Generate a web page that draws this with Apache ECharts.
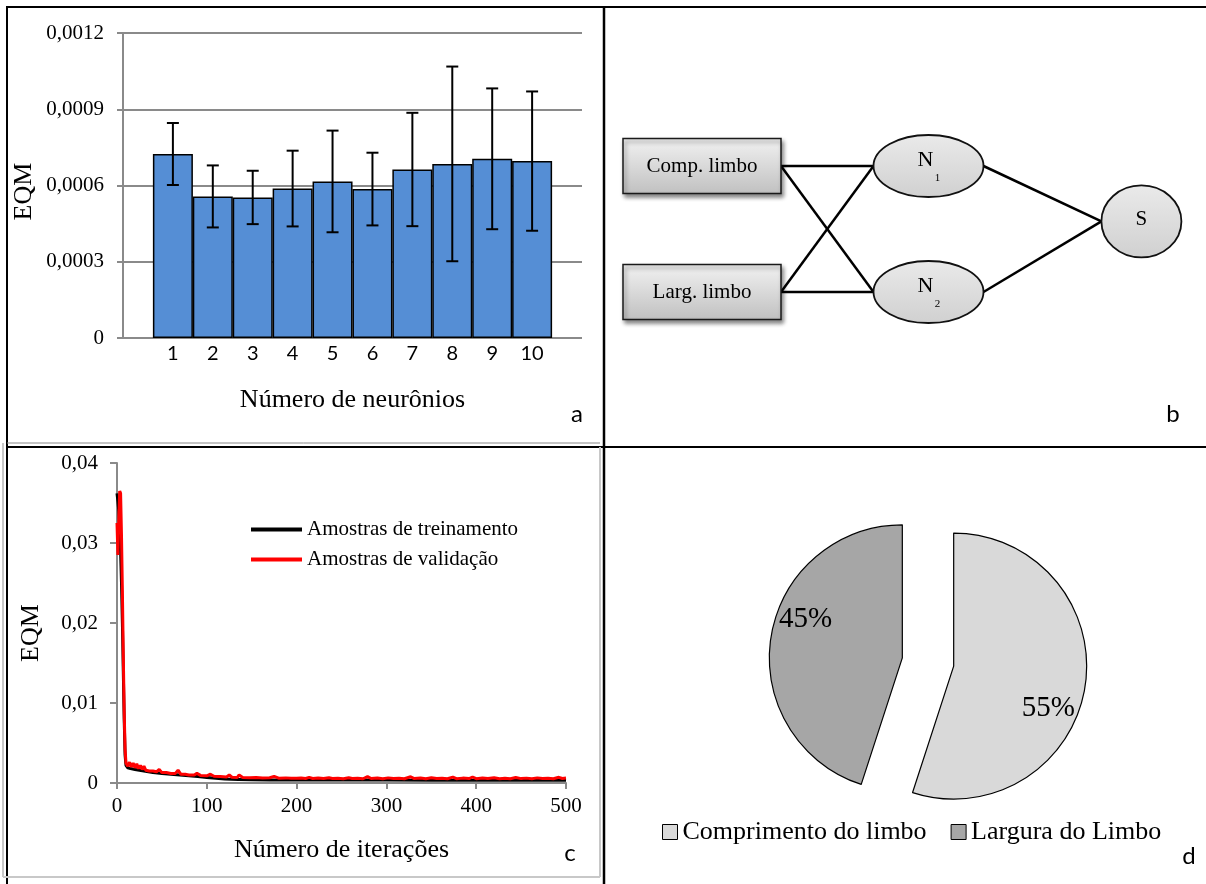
<!DOCTYPE html>
<html><head><meta charset="utf-8">
<script src="https://cdn.jsdelivr.net/npm/echarts@6/dist/echarts.min.js"></script>
<style>html,body{margin:0;padding:0;background:#fff}#c{width:1206px;height:884px}</style>
</head><body><div id="c"></div>
<script>
// ---------- Panel a: EQM vs number of neurons ----------
const neuronCounts = [1, 2, 3, 4, 5, 6, 7, 8, 9, 10];
const eqmMean = [0.000724, 0.000557, 0.000553, 0.000588, 0.000616, 0.000586, 0.000663, 0.000685, 0.000705, 0.000696];
const eqmSd   = [0.000122, 0.000122, 0.000105, 0.000149, 0.000200, 0.000143, 0.000223, 0.000383, 0.000277, 0.000274];

// ---------- Panel b: network topology ----------
const netNodes = [
  { label: 'Comp. limbo', sub: '', kind: 'input',  col: 0,    row: 0 },
  { label: 'Larg. limbo', sub: '', kind: 'input',  col: 0,    row: 1 },
  { label: 'N',           sub: '1', kind: 'hidden', col: 1,    row: 0 },
  { label: 'N',           sub: '2', kind: 'hidden', col: 1,    row: 1 },
  { label: 'S',           sub: '', kind: 'output', col: 1.94, row: 0.44 }
];
const netLinks = [[0, 2], [0, 3], [1, 2], [1, 3], [2, 4], [3, 4]];

// ---------- Panel c: training curves ----------
const trainIter = [0,1,2,3,4,5,6,7,8,9,10,12,15,20,25,30,40,50,60,70,80,90,100,110,120,135,150,170,200,250,300,350,400,450,500];
const trainEqm  = [0.0362,0.0352,0.034,0.032,0.029,0.025,0.02,0.014,0.008,0.0035,0.0022,0.0019,0.0018,0.0017,0.0016,0.0015,0.0013,0.0012,0.0011,0.001,0.0009,0.0008,0.0007,0.0006,0.0005,0.00045,0.0004,0.00038,0.00037,0.00036,0.00036,0.00035,0.00035,0.00035,0.00035];
const validPoints = [
  [0,0.0325],[1,0.0285],[2,0.033],[3,0.0365],[4,0.0362],[5,0.031],[6,0.024],[7,0.016],[8,0.009],[9,0.0042],
  [10,0.0025],[12,0.0021],[14,0.0026],[16,0.002],[18,0.0025],[20,0.0019],[22,0.0024],[24,0.0018],[26,0.0022],[28,0.0017],
  [30,0.0021],[32,0.0016],[36,0.0015],[40,0.0015],[44,0.0014],[47,0.0017],[50,0.0013],[55,0.0013],[60,0.0012],[65,0.0012],
  [68,0.0016],[71,0.0011],[76,0.0011],[80,0.001],[86,0.001],[89,0.0012],[93,0.00095],[100,0.0009],[104,0.0011],[108,0.00085],
  [115,0.0008],[122,0.00075],[125,0.001],[128,0.00072],[134,0.0007],[136,0.001],[140,0.0007],[148,0.00065],[155,0.00068],[162,0.00062],
  [170,0.00066],[175,0.00082],[180,0.0006],[188,0.00064],[194,0.00058],[200,0.00058],[205,0.00062],[210,0.00056],[214,0.0007],[218,0.00057],
  [224,0.00063],[230,0.00055],[236,0.00066],[240,0.00057],[246,0.0006],[252,0.00054],[258,0.00065],[262,0.00056],[268,0.0006],[274,0.00053],
  [279,0.0008],[283,0.00056],[290,0.00062],[296,0.00054],[302,0.00064],[308,0.00055],[314,0.0006],[320,0.00053],[327,0.00078],[331,0.00055],
  [338,0.00062],[344,0.00054],[350,0.00066],[356,0.00055],[362,0.0006],[368,0.00053],[374,0.00074],[378,0.00054],[385,0.00061],[392,0.00055],
  [396,0.00075],[400,0.00054],[407,0.00062],[413,0.00055],[420,0.00065],[426,0.00054],[432,0.0006],[438,0.00053],[444,0.00068],[450,0.00055],
  [456,0.00061],[462,0.00054],[468,0.00064],[474,0.00055],[480,0.0006],[486,0.00054],[492,0.00071],[496,0.00056],[500,0.00062]
];
const seriesNames = ['Amostras de treinamento', 'Amostras de validação'];

// ---------- Panel d: relative importance ----------
const pieNames  = ['Comprimento do limbo', 'Largura do Limbo'];
const pieValues = [55, 45];

// ---------- styles ----------
const SERIF = '"Liberation Serif", "Times New Roman", serif';
const SANS = 'Lato, "Open Sans", sans-serif';
const AXIS_GRAY = '#8a8a8a';
const nodeSize = { input: [158, 55], hidden: [110, 62], output: [80, 72] };
const pieColors = ['#D9D9D9', '#A6A6A6'];
const pieLabelShift = [[26, 31], [-28, -28]];

const boxFill = new echarts.graphic.LinearGradient(0, 0, 0, 1, [
  { offset: 0, color: '#f2f2f2' }, { offset: 1, color: '#c0c0c0' }]);
const ellFill = new echarts.graphic.LinearGradient(0, 0, 0, 1, [
  { offset: 0, color: '#eaeaea' }, { offset: 1, color: '#d0d0d0' }]);

function halfWidth(n) { return nodeSize[n.kind][0] / 2; }

const chart = echarts.init(document.getElementById('c'), null, { renderer: 'canvas' });

const frameLine = (x1, y1, x2, y2, color, w) => ({
  type: 'line', silent: true, z: 100,
  shape: { x1, y1, x2, y2 }, style: { stroke: color, lineWidth: w }
});
const letter = (t, x, y) => ({
  type: 'text', x, y, z: 100,
  style: { text: t, font: '24px ' + SANS, fill: '#000', align: 'center', verticalAlign: 'middle' }
});

const option = {
  animation: false,
  backgroundColor: '#fff',
  grid: [
    { left: 123, top: 33, width: 459, height: 305, outerBoundsMode: 'none' },
    { left: 702, top: 166, width: 453, height: 126, outerBoundsMode: 'none' },
    { left: 117, top: 463, width: 449, height: 320, outerBoundsMode: 'none' }
  ],
  xAxis: [
    {
      gridIndex: 0, type: 'value', min: -0.25, max: 11.25,
      axisLine: { show: false, onZero: false }, axisTick: { show: false }, splitLine: { show: false },
      axisLabel: { customValues: neuronCounts, fontFamily: SANS, fontSize: 20, color: '#000', margin: 6 },
      name: 'Número de neurônios', nameLocation: 'middle', nameGap: 49,
      nameTextStyle: { fontFamily: SERIF, fontSize: 26, color: '#000' }
    },
    { gridIndex: 1, type: 'value', min: 0, max: 2, show: false },
    {
      gridIndex: 2, type: 'value', min: 0, max: 500, interval: 100,
      axisLine: { show: true, onZero: false, lineStyle: { color: AXIS_GRAY, width: 2 } },
      axisTick: { show: true, length: 6, lineStyle: { color: AXIS_GRAY, width: 2 } },
      splitLine: { show: false },
      axisLabel: { fontFamily: SERIF, fontSize: 21, color: '#000', margin: 13 },
      name: 'Número de iterações', nameLocation: 'middle', nameGap: 54,
      nameTextStyle: { fontFamily: SERIF, fontSize: 26, color: '#000' }
    }
  ],
  yAxis: [
    {
      gridIndex: 0, type: 'value', min: 0, max: 0.0012, interval: 0.0003,
      axisLine: { show: true, onZero: false, lineStyle: { color: AXIS_GRAY, width: 2 } },
      axisTick: { show: true, length: 6, lineStyle: { color: AXIS_GRAY, width: 2 } },
      splitLine: { show: true, lineStyle: { color: AXIS_GRAY, width: 2 } },
      axisLabel: {
        fontFamily: SERIF, fontSize: 21, color: '#000', margin: 19,
        formatter: v => v === 0 ? '0' : v.toFixed(4).replace('.', ',')
      },
      name: 'EQM', nameLocation: 'middle', nameGap: 86,
      nameTextStyle: { fontFamily: SERIF, fontSize: 26, color: '#000', padding: [0, 12, 0, 0] }
    },
    { gridIndex: 1, type: 'value', min: 0, max: 1, inverse: true, show: false },
    {
      gridIndex: 2, type: 'value', min: 0, max: 0.04, interval: 0.01,
      axisLine: { show: true, onZero: false, lineStyle: { color: AXIS_GRAY, width: 2 } },
      axisTick: { show: true, length: 7, lineStyle: { color: AXIS_GRAY, width: 2 } },
      splitLine: { show: false },
      axisLabel: {
        fontFamily: SERIF, fontSize: 21, color: '#000', margin: 19,
        formatter: v => v === 0 ? '0' : v.toFixed(2).replace('.', ',')
      },
      name: 'EQM', nameLocation: 'middle', nameGap: 73,
      nameTextStyle: { fontFamily: SERIF, fontSize: 26, color: '#000', padding: [0, 20, 0, 0] }
    }
  ],
  legend: [
    {
      data: seriesNames.map(n => ({ name: n, icon: 'rect' })), orient: 'vertical', left: 251, top: 519, padding: 0,
      itemWidth: 51, itemHeight: 4, itemGap: 9,
      textStyle: { fontFamily: SERIF, fontSize: 21, color: '#000' },
      selectedMode: false
    },
    {
      data: pieNames, orient: 'horizontal', left: 662, top: 819, padding: 0,
      itemWidth: 15, itemHeight: 15, itemGap: 24, icon: 'rect',
      itemStyle: { borderColor: '#000', borderWidth: 1 },
      textStyle: { fontFamily: SERIF, fontSize: 26, color: '#000' },
      selectedMode: false
    }
  ],
  series: [
    {
      type: 'bar', xAxisIndex: 0, yAxisIndex: 0, barWidth: 40, z: 2,
      data: neuronCounts.map((n, i) => [n, eqmMean[i]]),
      itemStyle: { color: '#558ED5', borderColor: '#000', borderWidth: 1.5 },
      emphasis: { disabled: true }
    },
    {
      type: 'custom', xAxisIndex: 0, yAxisIndex: 0, z: 5,
      data: neuronCounts.map((n, i) => [n, eqmMean[i] - eqmSd[i], eqmMean[i] + eqmSd[i]]),
      encode: { x: 0, y: [1, 2] },
      renderItem: (params, api) => {
        const x = api.value(0);
        const top = api.coord([x, api.value(2)]);
        const bot = api.coord([x, api.value(1)]);
        const cap = 6;
        const st = { stroke: '#000', lineWidth: 2 };
        return {
          type: 'group', children: [
            { type: 'line', shape: { x1: top[0], y1: top[1], x2: bot[0], y2: bot[1] }, style: st },
            { type: 'line', shape: { x1: top[0] - cap, y1: top[1], x2: top[0] + cap, y2: top[1] }, style: st },
            { type: 'line', shape: { x1: bot[0] - cap, y1: bot[1], x2: bot[0] + cap, y2: bot[1] }, style: st }
          ]
        };
      }
    },
    {
      type: 'custom', xAxisIndex: 1, yAxisIndex: 1, z: 3,
      data: netLinks.map(l => [netNodes[l[0]].col, netNodes[l[0]].row, netNodes[l[1]].col, netNodes[l[1]].row, l[0], l[1]]),
      renderItem: (params, api) => {
        const s = netNodes[api.value(4)], t = netNodes[api.value(5)];
        const ps = api.coord([api.value(0), api.value(1)]);
        const pt = api.coord([api.value(2), api.value(3)]);
        return {
          type: 'line',
          shape: { x1: ps[0] + halfWidth(s), y1: ps[1], x2: pt[0] - halfWidth(t), y2: pt[1] },
          style: { stroke: '#000', lineWidth: 2.5 }
        };
      }
    },
    {
      type: 'custom', xAxisIndex: 1, yAxisIndex: 1, z: 4,
      data: netNodes.map(n => [n.col, n.row]),
      renderItem: (params, api) => {
        const n = netNodes[params.dataIndex];
        const p = api.coord([api.value(0), api.value(1)]);
        const [w, h] = nodeSize[n.kind];
        const children = [];
        const shadow = { shadowBlur: 4, shadowOffsetX: 2, shadowOffsetY: 3, shadowColor: 'rgba(0,0,0,0.45)' };
        if (n.kind === 'input') {
          children.push({ type: 'rect', shape: { x: p[0] - w / 2, y: p[1] - h / 2, width: w, height: h },
            style: Object.assign({ fill: boxFill, stroke: '#1a1a1a', lineWidth: 1.5 }, shadow) });
          children.push({ type: 'text', x: p[0], y: p[1],
            style: { text: n.label, font: '21px ' + SERIF, fill: '#000', align: 'center', verticalAlign: 'middle' } });
        } else {
          children.push({ type: 'ellipse', shape: { cx: p[0], cy: p[1], rx: w / 2, ry: h / 2 },
            style: { fill: ellFill, stroke: '#111', lineWidth: 1.8 } });
          if (n.sub) {
            children.push({ type: 'text', x: p[0] - 3, y: p[1] - 6,
              style: { text: n.label, font: '22px ' + SERIF, fill: '#000', align: 'center', verticalAlign: 'middle' } });
            children.push({ type: 'text', x: p[0] + 9, y: p[1] + 12,
              style: { text: n.sub, font: '11px ' + SERIF, fill: '#000', align: 'center', verticalAlign: 'middle' } });
          } else {
            children.push({ type: 'text', x: p[0], y: p[1] - 2,
              style: { text: n.label, font: '21px ' + SERIF, fill: '#000', align: 'center', verticalAlign: 'middle' } });
          }
        }
        return { type: 'group', children };
      }
    },
    {
      name: seriesNames[0], type: 'line', xAxisIndex: 2, yAxisIndex: 2,
      data: trainIter.map((x, i) => [x, trainEqm[i]]),
      symbol: 'none', lineStyle: { color: '#000', width: 3 }, itemStyle: { color: '#000' }, z: 3
    },
    {
      name: seriesNames[1], type: 'line', xAxisIndex: 2, yAxisIndex: 2,
      data: validPoints,
      symbol: 'none', lineStyle: { color: '#ff0000', width: 3 }, itemStyle: { color: '#ff0000' }, z: 4
    },
    {
      type: 'pie', center: [928, 662], radius: 133, startAngle: 90, clockwise: true,
      selectedMode: 'multiple', selectedOffset: 26,
      data: pieNames.map((n, i) => ({ name: n, value: pieValues[i], selected: true, itemStyle: { color: pieColors[i] } })),
      itemStyle: { borderColor: '#000', borderWidth: 1.2 },
      select: { itemStyle: { borderColor: '#000', borderWidth: 1.2 } },
      emphasis: { disabled: true },
      label: { show: true, position: 'inside', formatter: p => p.value + '%', fontFamily: SERIF, fontSize: 29, color: '#000' },
      labelLine: { show: false },
      labelLayout: p => ({ dx: pieLabelShift[p.dataIndex][0], dy: pieLabelShift[p.dataIndex][1] })
    }
  ],
  graphic: [
    frameLine(6, 7, 1206, 7, '#000', 2),
    frameLine(7, 6, 7, 884, '#000', 2),
    frameLine(604, 7, 604, 884, '#000', 2.5),
    frameLine(7, 443, 600, 443, '#888', 1),
    frameLine(7, 447, 1206, 447, '#000', 2),
    frameLine(3, 443, 3, 877, '#c8c8c8', 2),
    frameLine(600, 447, 600, 877, '#c8c8c8', 2),
    frameLine(3, 877, 600, 877, '#c8c8c8', 2),
    letter('a', 577, 414),
    letter('b', 1173, 414),
    letter('c', 570, 853),
    letter('d', 1189, 856)
  ]
};
chart.setOption(option);
</script>
</body></html>
